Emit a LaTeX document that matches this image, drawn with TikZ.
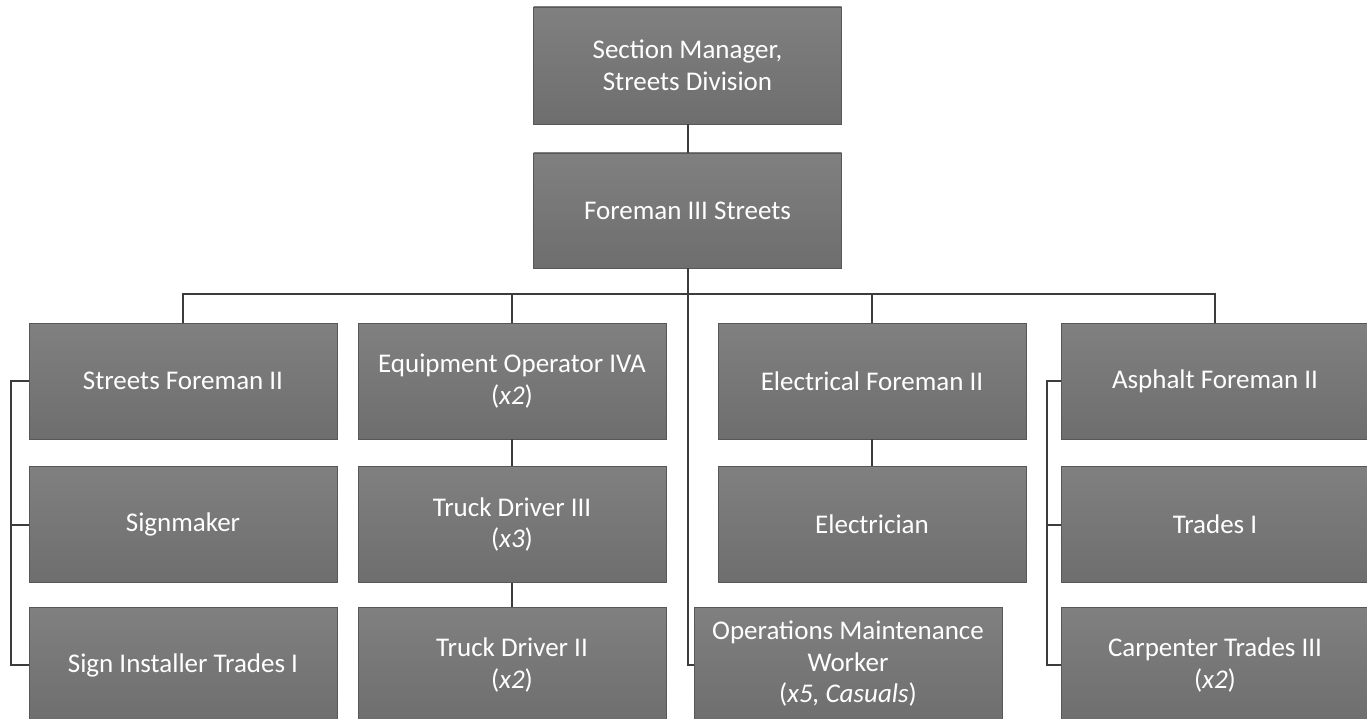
\documentclass[tikz,border=0pt]{standalone}
\usepackage{fontspec}
\setmainfont{Carlito}
\definecolor{boxtop}{RGB}{128,128,128}
\definecolor{boxbot}{RGB}{110,110,110}
\definecolor{boxline}{RGB}{88,88,88}
\definecolor{wire}{RGB}{60,60,60}
\tikzset{
  post/.style={rectangle, draw=boxline, line width=0.8pt,
    top color=boxtop, bottom color=boxbot,
    minimum width=308pt, minimum height=116pt, inner sep=2pt,
    text=white, align=center, font=\fontsize{27}{31.5}\selectfont},
  link/.style={draw=wire, line width=2pt}
}
\begin{document}
\begin{tikzpicture}[x=1pt,y=-1pt]
\useasboundingbox (0,0) rectangle (1367,719);
\clip (0,0) rectangle (1367,719);
% management chain
\node[post, minimum height=117pt] (sm) at (687.5,65.5) {Section Manager,\\Streets Division};
\node[post, minimum height=115pt] (f3) at (687.5,210.5) {Foreman III Streets};
% first row of sections
\node[post] (sf) at (183,381) {Streets Foreman II};
\node[post] (eo) at (512,381) {Equipment Operator IVA\\(\textit{x2})};
\node[post] (ef) at (872,381) {Electrical Foreman II};
\node[post] (af) at (1215,381) {Asphalt Foreman II};
% second row
\node[post] (sg) at (183,524.5) {Signmaker};
\node[post] (t3) at (512,524.5) {Truck Driver III\\(\textit{x3})};
\node[post] (el) at (872,524.5) {Electrician};
\node[post] (tr) at (1215,524.5) {Trades I};
% third row
\node[post] (si) at (183,665) {Sign Installer Trades I};
\node[post] (t2) at (512,665) {Truck Driver II\\(\textit{x2})};
\node[post] (om) at (848,665) {\raisebox{8pt}{\begin{tabular}{@{}c@{}}Operations Maintenance\\Worker\\(\textit{x5, Casuals})\end{tabular}}};
\node[post] (ct) at (1215,665) {Carpenter Trades III\\(\textit{x2})};
% reporting lines
\coordinate (bus) at (0,294);
\draw[link] (sm.south) -- (f3.north);
\draw[link] (f3.south) |- (om.west);
\draw[link] (sf.north) -- (sf.north |- bus) -- (af.north |- bus) -- (af.north);
\draw[link] (eo.north) -- (eo.north |- bus);
\draw[link] (ef.north) -- (ef.north |- bus);
\draw[link] (eo.south) -- (t3.north);
\draw[link] (t3.south) -- (t2.north);
\draw[link] (ef.south) -- (el.north);
\draw[link] (sf.west) -- ++(-18,0) |- (si.west);
\draw[link] (sg.west) -- ++(-18,0);
\draw[link] (af.west) -- ++(-14,0) |- (ct.west);
\draw[link] (tr.west) -- ++(-14,0);
\end{tikzpicture}
\end{document}
